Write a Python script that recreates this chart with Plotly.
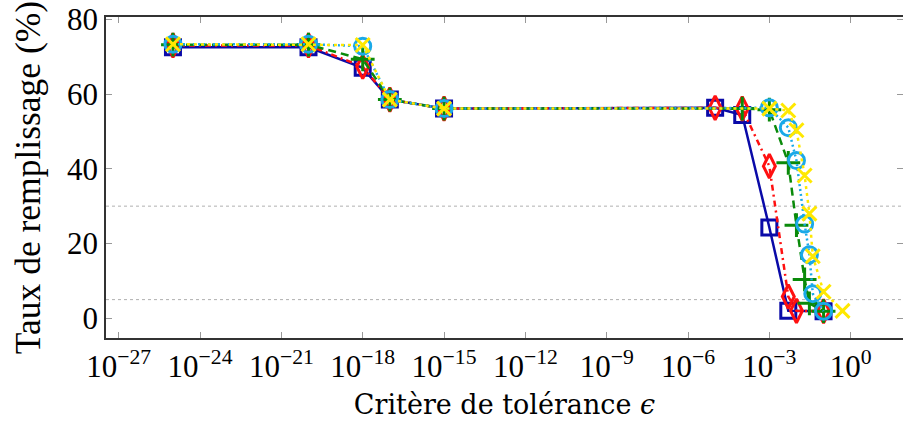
import plotly.graph_objects as go

# tolerance values (epsilon) and fill rates (%) per series
x_blue = [1e-25, 1e-20, 1e-18, 1e-17, 1e-15, 1e-5, 1e-4, 1e-3, 5e-3, 1e-1]
y_blue = [72.5, 72.5, 67.0, 58.5, 56.1, 56.3, 54.4, 24.3, 2.0, 1.9]

x_red = [1e-25, 1e-20, 1e-18, 1e-17, 1e-15, 1e-5, 1e-4, 1e-3, 5e-3, 1e-2, 1e-1]
y_red = [73.0, 73.0, 67.3, 58.5, 56.1, 56.3, 56.1, 40.7, 5.8, 2.0, 1.9]

x_green = [1e-25, 1e-20, 1e-18, 1e-17, 1e-15, 1e-4, 1e-3, 5e-3, 1e-2, 2e-2, 3e-2, 1e-1]
y_green = [73.2, 73.2, 69.3, 58.5, 56.1, 56.1, 55.8, 41.6, 24.9, 10.4, 4.0, 1.9]

x_cyan = [1e-25, 1e-20, 1e-18, 1e-17, 1e-15, 1e-3, 5e-3, 1e-2, 2e-2, 3e-2, 4e-2, 1e-1]
y_cyan = [73.3, 73.3, 72.8, 58.5, 56.1, 56.3, 51.0, 42.2, 25.2, 17.0, 6.6, 1.9]

x_yellow = [1e-25, 1e-20, 1e-18, 1e-17, 1e-15, 1e-3, 5e-3, 1e-2, 2e-2, 3e-2, 4e-2, 1e-1, 5e-1]
y_yellow = [73.3, 73.3, 73.1, 58.5, 56.1, 56.1, 55.6, 50.3, 38.2, 28.0, 16.6, 7.1, 2.0]

x_tickvals = [1e-27, 1e-24, 1e-21, 1e-18, 1e-15, 1e-12, 1e-9, 1e-6, 1e-3, 1e0]
x_ticktext = ["10<sup>−27</sup>", "10<sup>−24</sup>", "10<sup>−21</sup>", "10<sup>−18</sup>",
              "10<sup>−15</sup>", "10<sup>−12</sup>", "10<sup>−9</sup>", "10<sup>−6</sup>",
              "10<sup>−3</sup>", "10<sup>0</sup>"]
y_tickvals = [0, 20, 40, 60, 80]
ref_levels = [30, 5]

series = [
    (x_blue, y_blue, "#0a0aa8", "solid", "square-open", 15),
    (x_red, y_red, "#ff1010", "6px,4px,2px,4px", "diamond-tall-open", 17),
    (x_green, y_green, "#0a8a0a", "8px,5px", "cross-thin-open", 17),
    (x_cyan, y_cyan, "#1aa9e8", "2px,3px", "circle-open", 16),
    (x_yellow, y_yellow, "#ffe800", "3px,4px", "x-thin-open", 14),
]

fig = go.Figure()
for xs, ys, col, dash, sym, size in series:
    fig.add_trace(go.Scatter(
        x=xs, y=ys, mode="lines+markers",
        line=dict(color=col, width=2.5, dash=dash),
        marker=dict(symbol=sym, size=size, color=col, line=dict(color=col, width=3)),
        showlegend=False, hoverinfo="skip",
    ))

for lv in ref_levels:
    fig.add_shape(type="line", xref="paper", yref="y", x0=0, x1=1, y0=lv, y1=lv,
                  line=dict(color="#b0b0b0", width=1, dash="dot"), layer="below")

ff = "Liberation Serif"
fig.update_layout(
    width=903, height=426,
    margin=dict(l=106, r=0, t=17, b=88),
    plot_bgcolor="white", paper_bgcolor="white",
    font=dict(family=ff, size=31, color="black"),
)
fig.update_xaxes(
    type="log", range=[-27.47, 1.93], automargin=False,
    tickvals=x_tickvals, ticktext=x_ticktext,
    ticks="inside", ticklen=6, tickcolor="#999999", tickwidth=1,
    showline=True, linecolor="#333333", linewidth=1.5, mirror="allticks",
    showgrid=False, zeroline=False, ticklabeloverflow="allow",
    tickfont=dict(family=ff, size=31, color="black"),
    title=dict(text="Critère de tolérance <i>ϵ</i>", font=dict(family="DejaVu Serif", size=27, color="black"), standoff=12),
)
fig.update_yaxes(
    range=[-5.27, 80.6], automargin=False,
    tickvals=y_tickvals,
    ticks="inside", ticklen=6, tickcolor="#999999", tickwidth=1,
    showline=True, linecolor="#333333", linewidth=1.5, mirror="allticks",
    showgrid=False, zeroline=False, ticklabeloverflow="allow",
    tickfont=dict(family=ff, size=31, color="black"),
    title=dict(text="Taux de remplissage (%)", font=dict(family=ff, size=35.5, color="black"), standoff=16),
)

fig.write_html("out.html",
               config={"displayModeBar": False, "responsive": False},
               post_script="document.body.style.margin='0';document.documentElement.style.overflow='hidden';")
